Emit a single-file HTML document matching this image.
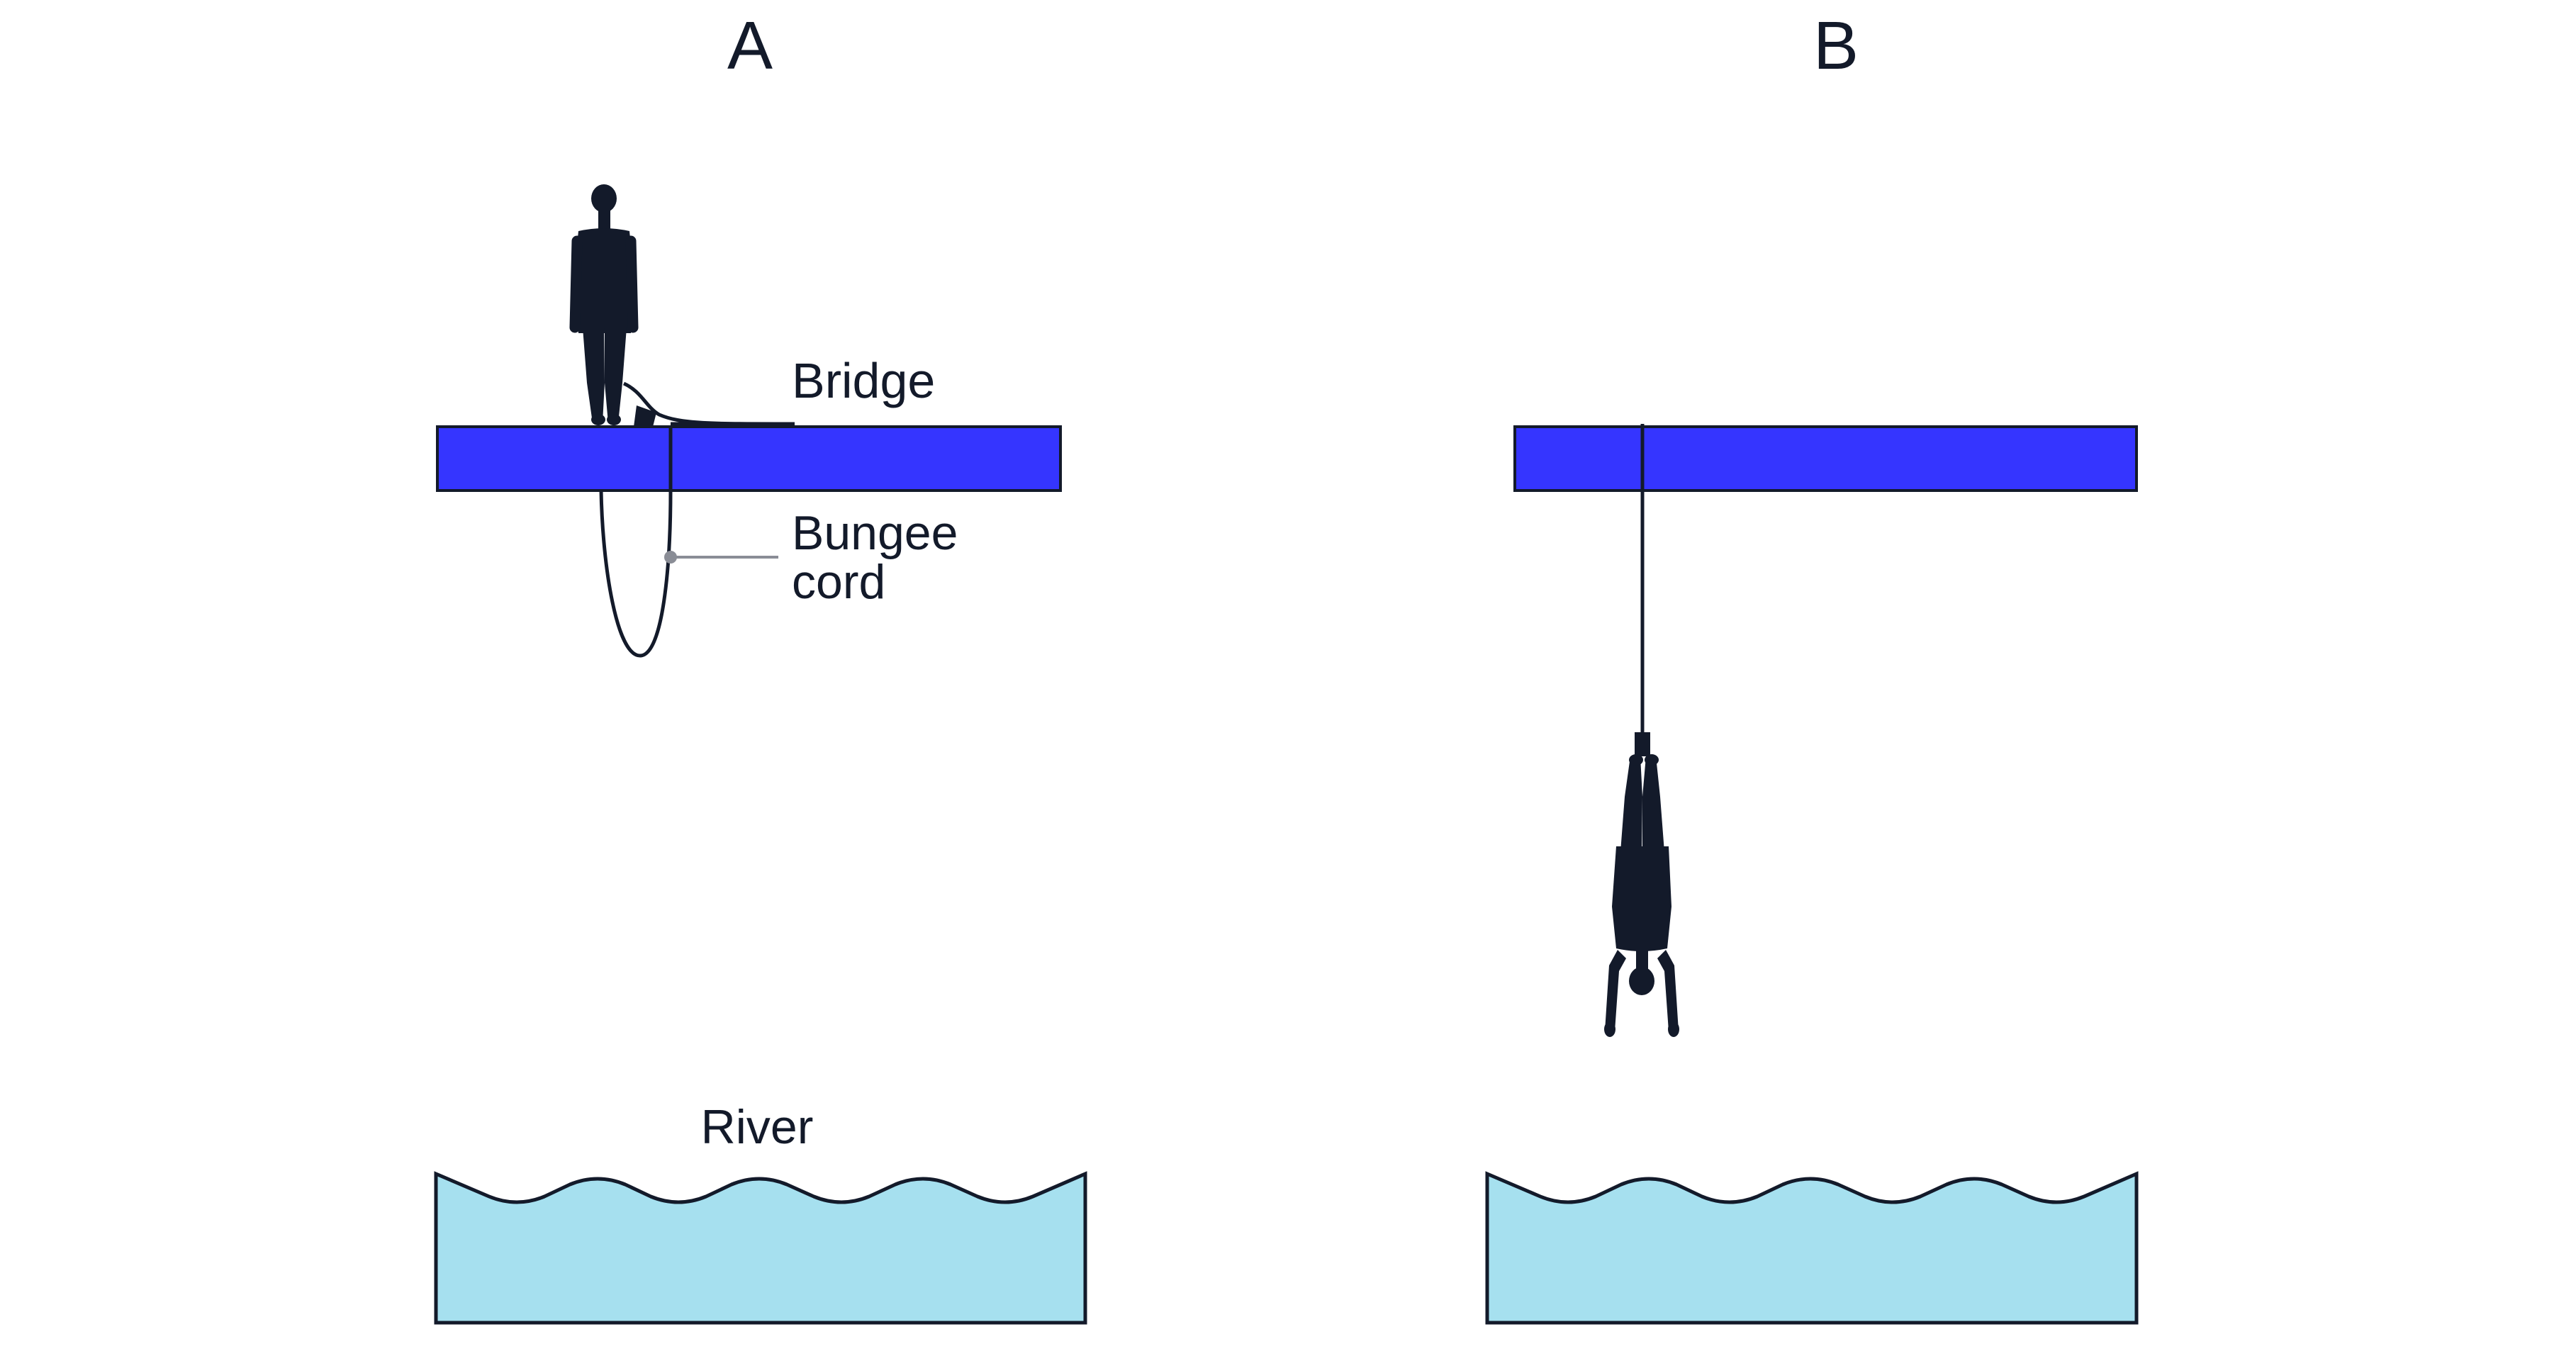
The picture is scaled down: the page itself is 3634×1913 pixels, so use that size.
<!DOCTYPE html>
<html><head><meta charset="utf-8"><style>
html,body{margin:0;padding:0;background:#fff;}
svg{display:block;}
text{font-family:"Liberation Sans",sans-serif;fill:#131a2a;}
</style></head><body>
<svg width="3634" height="1913" viewBox="0 0 3634 1913" xmlns="http://www.w3.org/2000/svg">
<defs>
<g id="body">
  <ellipse cx="852" cy="280" rx="18" ry="20"/>
  <rect x="844" y="292" width="17" height="36"/>
  <path d="M816,326 Q852,318 888,326 L894,385 L890,470 L816,470 L810,385 Z"/>
  <path d="M822,462 L852,462 L853,540 L850,597 L836,597 L828,540 Z"/>
  <path d="M853,462 L884,462 L878,540 L872,597 L858,597 L853,540 Z"/>
  <ellipse cx="844" cy="592" rx="10" ry="8"/>
  <ellipse cx="866" cy="592" rx="10" ry="8"/>
</g>
</defs>

<text x="1058" y="97" font-size="96" text-anchor="middle">A</text>
<text x="2590" y="97" font-size="96" text-anchor="middle">B</text>

<g fill="#131a2a" stroke="none">
  <use href="#body"/>
  <line x1="814" y1="340" x2="811" y2="462" stroke="#131a2a" stroke-width="15" stroke-linecap="round"/>
  <line x1="890" y1="340" x2="893" y2="462" stroke="#131a2a" stroke-width="15" stroke-linecap="round"/>
  <path d="M898,572 L926,582 L921,602 L894,602 Z"/>
</g>
<path d="M880,541 C905,552 912,575 930,585 C960,598 1000,598 1121,598" fill="none" stroke="#131a2a" stroke-width="5"/>
<line x1="946" y1="598" x2="1121" y2="598" stroke="#131a2a" stroke-width="5"/>

<rect x="617" y="602" width="879" height="90" fill="#3535ff" stroke="#131a2a" stroke-width="4"/>
<path d="M946,600 L946,692 C946,800 935,925 903,925 C870,925 850,800 848,692" fill="none" stroke="#131a2a" stroke-width="5"/>

<text x="1117" y="561" font-size="70">Bridge</text>
<line x1="946" y1="786" x2="1098" y2="786" stroke="#8a8d96" stroke-width="4"/>
<circle cx="946" cy="786" r="9" fill="#8a8d96"/>
<text x="1117" y="775" font-size="68">Bungee</text>
<text x="1117" y="844" font-size="68">cord</text>

<text x="1068" y="1613" font-size="68" text-anchor="middle">River</text>

<path d="M615,1656 L690,1688 Q729,1704 768,1688 L804,1671 Q843,1655 882,1671 L918,1688 Q957,1704 996,1688 L1032,1671 Q1071,1655 1110,1671 L1148,1688 Q1187,1704 1226,1688 L1263,1671 Q1302,1655 1341,1671 L1379,1688 Q1418,1704 1457,1688 L1531,1656 L1531,1866 L615,1866 Z" fill="#a6e0ef" stroke="#131a2a" stroke-width="5"/>

<rect x="2137" y="602" width="877" height="90" fill="#3535ff" stroke="#131a2a" stroke-width="4"/>
<line x1="2317" y1="598" x2="2317" y2="1040" stroke="#131a2a" stroke-width="5"/>
<g fill="#131a2a">
  <rect x="2306" y="1033" width="22" height="34"/>
  <g transform="matrix(1,0,0,-1,1464,1664)"><use href="#body"/></g>
  <path d="M2282,1340 L2270,1362 L2264,1455 L2278,1455 L2284,1370 L2294,1352 Z"/>
  <path d="M2350,1340 L2362,1362 L2368,1455 L2354,1455 L2348,1370 L2338,1352 Z"/>
  <ellipse cx="2271" cy="1452" rx="8" ry="11"/>
  <ellipse cx="2361" cy="1452" rx="8" ry="11"/>
</g>

<g transform="translate(1483,0)">
<path d="M615,1656 L690,1688 Q729,1704 768,1688 L804,1671 Q843,1655 882,1671 L918,1688 Q957,1704 996,1688 L1032,1671 Q1071,1655 1110,1671 L1148,1688 Q1187,1704 1226,1688 L1263,1671 Q1302,1655 1341,1671 L1379,1688 Q1418,1704 1457,1688 L1531,1656 L1531,1866 L615,1866 Z" fill="#a6e0ef" stroke="#131a2a" stroke-width="5"/>
</g>
</svg>
</body></html>
